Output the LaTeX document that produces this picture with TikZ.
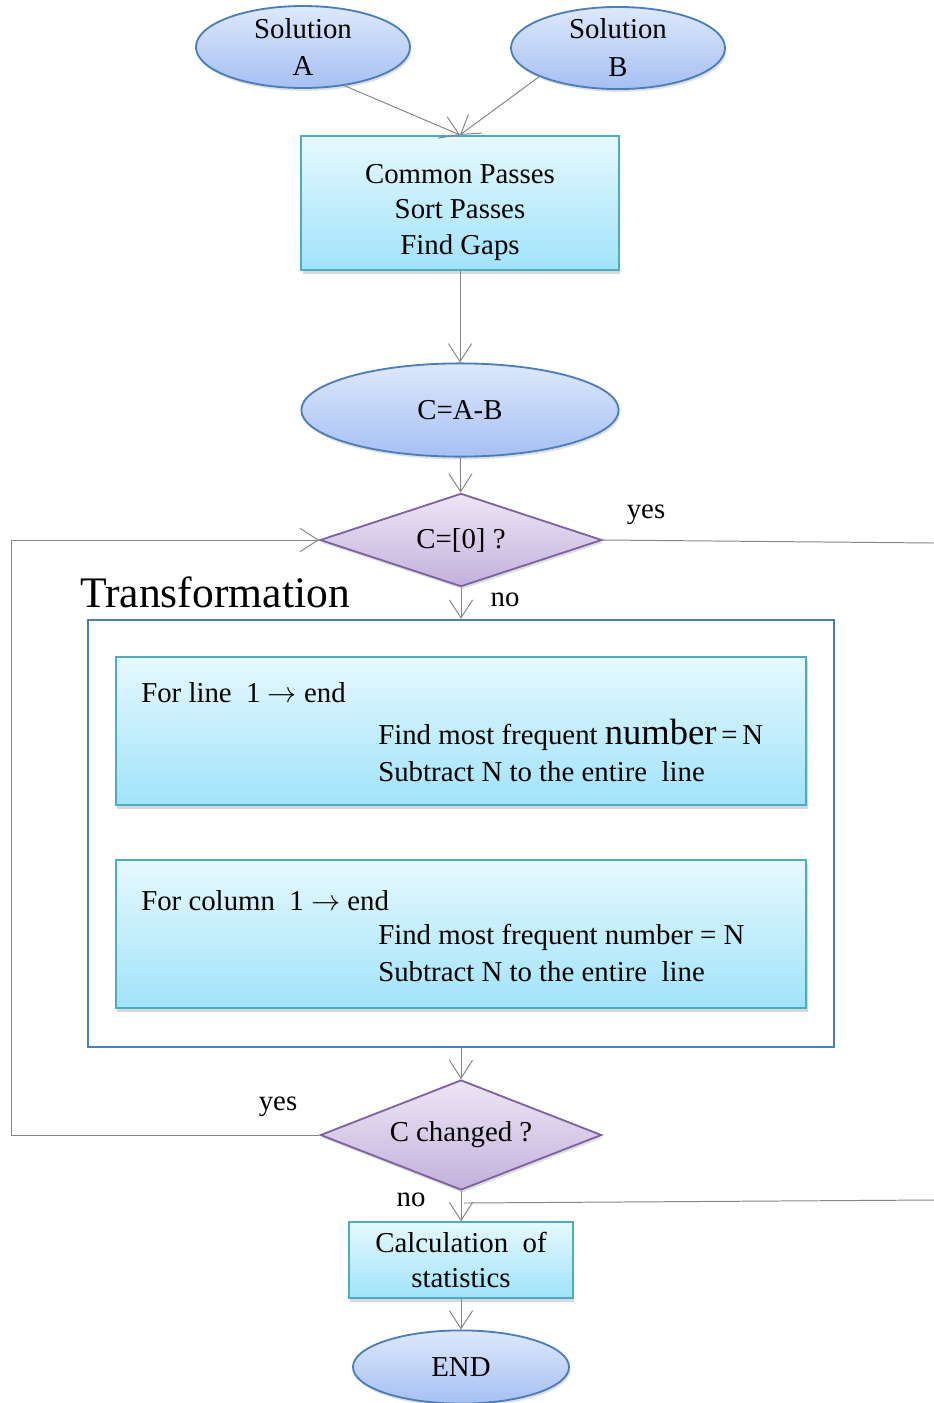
\documentclass[tikz,border=0pt]{standalone}
\usepackage{fontspec}
\setmainfont{Liberation Serif}
\usetikzlibrary{shapes.geometric,arrows.meta,shadows}
\definecolor{ellline}{HTML}{4A7EBB}
\definecolor{elltop}{HTML}{DDE8FB}
\definecolor{ellbot}{HTML}{A6C0F3}
\definecolor{boxline}{HTML}{4BACC6}
\definecolor{boxtop}{HTML}{E6F9FE}
\definecolor{boxbot}{HTML}{A0E3FA}
\definecolor{dialine}{HTML}{7F62A0}
\definecolor{diatop}{HTML}{EDE6F5}
\definecolor{diabot}{HTML}{C2B1DC}
\definecolor{flowgray}{HTML}{858585}
\tikzset{
  oval/.style={ellipse, draw=ellline, line width=1.3pt, top color=elltop, bottom color=ellbot,
    inner sep=0pt, align=center, drop shadow={opacity=0.25, shadow xshift=1pt, shadow yshift=-2pt}},
  box/.style={rectangle, draw=boxline, line width=1.5pt, top color=boxtop, bottom color=boxbot,
    inner sep=0pt, align=center, drop shadow={opacity=0.3, shadow xshift=1pt, shadow yshift=-3pt}},
  test/.style={diamond, draw=dialine, line width=1.3pt, top color=diatop, bottom color=diabot,
    inner sep=0pt, drop shadow={opacity=0.25, shadow xshift=1pt, shadow yshift=-2pt}},
  txt/.style={inner sep=0pt, anchor=west},
  flow/.style={draw=flowgray, line width=0.7pt, -{Straight Barb[length=4.5mm,width=5.8mm,line width=0.7pt]}},
  plain/.style={draw=flowgray, line width=0.7pt}
}

\begin{document}
\begin{tikzpicture}[x=0.025cm, y=-0.025cm, font=\fontsize{20.5}{25}\selectfont]
\useasboundingbox (0,0) rectangle (934,1403);

\node[oval, minimum width=5.35cm, minimum height=1.83cm] (solA) at (303,47) {Solution\\[2pt]A};
\node[oval, minimum width=5.35cm, minimum height=1.83cm] (solB) at (618,48) {Solution\\[2pt]B};
\node[box, minimum width=7.93cm, minimum height=3.35cm] (passes) at (460,203)
  {\rule{0pt}{27pt}Common Passes\\Sort Passes\\Find Gaps};
\node[oval, minimum width=7.93cm, minimum height=2.33cm] (diff) at (460,410) {C=A-B};
\node[test, aspect=3, minimum width=7.05cm, minimum height=2.33cm] (zero) at (461,540) {C=[0] ?};

\node[font=\fontsize{31}{31}\selectfont, inner sep=0pt] (title) at (215,592) {Transformation};
\node[draw=ellline, line width=1.5pt, fill=white, minimum width=18.65cm, minimum height=10.68cm,
  inner sep=0pt] (trans) at (461,833.5) {};
\node[box, minimum width=17.25cm, minimum height=3.7cm] (rows) at (461,731) {};
\node[box, minimum width=17.25cm, minimum height=3.7cm] (cols) at (461,934) {};
\node[txt] (rowfor) at (141,693) {For line~ 1 $\rightarrow$ end};
\node[txt] (rowfind) at (378,735) {Find most frequent {\fontsize{26}{26}\selectfont number}\,=\,N};
\node[txt] (rowsub) at (378,772) {Subtract N to the entire~ line};
\node[txt] (colfor) at (141,901) {For column~ 1 $\rightarrow$ end};
\node[txt] (colfind) at (378,937) {Find most frequent number = N};
\node[txt] (colsub) at (378,972) {Subtract N to the entire~ line};

\node[test, aspect=2.55, minimum width=7.03cm, minimum height=2.75cm] (changed) at (461,1135) {C changed ?};
\node[box, minimum width=5.6cm, minimum height=1.88cm] (stats) at (461,1260) {Calculation~ of\\statistics};
\node[oval, minimum width=5.4cm, minimum height=1.83cm] (finish) at (461,1367) {END};

\node (yes1) at (646,515) {yes};
\node (no1) at (505,600) {no};
\node (yes2) at (278,1107) {yes};
\node (no2) at (411,1200) {no};

\coordinate (right1) at (934,543);
\coordinate (loop) at (11,1135);
\coordinate (right2) at (934,1200);
\coordinate (join) at (464,1203);

\draw[flow] (solA.-43) -- (passes.north);
\draw[flow] (solB.200) -- (passes.north);
\draw[flow] (passes) -- (diff);
\draw[flow] (diff) -- (zero);
\draw[flow] (zero) -- (trans);
\draw[plain] (zero.east) -- (right1);
\draw[flow] (changed.west) -- (loop) |- (zero.west);
\draw[flow] (trans) -- (changed);
\draw[flow] (changed) -- (stats);
\draw[plain] (right2) -- (join);
\draw[flow] (stats) -- (finish);
\end{tikzpicture}
\end{document}
